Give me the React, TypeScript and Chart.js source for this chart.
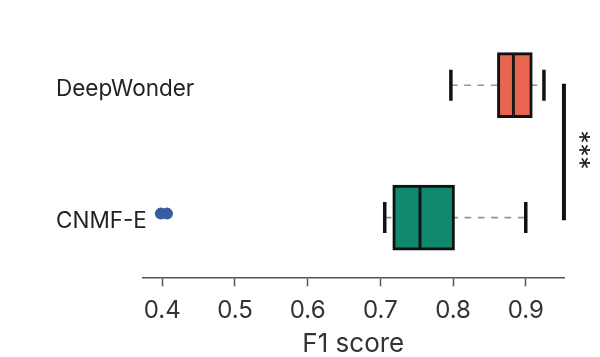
import React, { useEffect, useRef } from 'react';
import { Chart, registerables } from 'chart.js';

Chart.register(...registerables);

// ---- data ----
const categories = ['CNMF-E', 'DeepWonder'];
const categoryPositions = [0, 1];
const minValues = [0.706, 0.797];
const q1Values = [0.717, 0.861];
const medianValues = [0.7545, 0.883];
const q3Values = [0.802, 0.909];
const maxValues = [0.9, 0.925];
const boxColors = ['#108A6E', '#E8654F'];
const outlierValues = [0.398, 0.4065];
const outlierPosition = 0.03;
const xTickValues = [0.4, 0.5, 0.6, 0.7, 0.8, 0.9];
const xTitle = 'F1 score';
const significanceLabel = '***';
const bracketX = 0.9525;
const bracketFrom = 1.01;
const bracketTo = -0.02;
const significanceTextX = 0.973;
const significanceTextY = 0.51;

const FONT = 'Inter, "Noto Sans", sans-serif';

const sigPlugin = {
  id: 'sigText',
  afterDatasetsDraw(chart: any) {
    const { ctx, scales } = chart;
    const px = scales.x.getPixelForValue(significanceTextX);
    const py = scales.y.getPixelForValue(significanceTextY);
    ctx.save();
    ctx.translate(px, py);
    ctx.rotate(Math.PI / 2);
    ctx.font = `26px ${FONT}`;
    ctx.fillStyle = '#222';
    ctx.textAlign = 'center';
    ctx.textBaseline = 'middle';
    ctx.fillText(significanceLabel, 0, 0);
    ctx.restore();
  },
};

export default function App() {
  const ref = useRef<HTMLCanvasElement | null>(null);

  useEffect(() => {
    if (!ref.current) return;

    const whiskerSets = categories.map((_, i) => ({
      type: 'line',
      data: [
        { x: minValues[i], y: categoryPositions[i] },
        { x: maxValues[i], y: categoryPositions[i] },
      ],
      borderColor: '#959595',
      borderWidth: 1.6,
      borderDash: [6.7, 6.6],
      pointRadius: 0,
      order: 3,
    }));

    const chart = new Chart(ref.current, {
      type: 'bar',
      data: {
        datasets: [
          {
            type: 'scatter',
            data: categories.flatMap((_, i) => [
              { x: minValues[i], y: categoryPositions[i] },
              { x: maxValues[i], y: categoryPositions[i] },
            ]),
            pointStyle: 'line',
            rotation: 90,
            radius: 15.5,
            borderWidth: 3.5,
            borderColor: '#111',
            order: 0,
          },
          {
            type: 'scatter',
            data: outlierValues.map((v) => ({ x: v, y: outlierPosition })),
            pointStyle: 'circle',
            radius: 6,
            backgroundColor: '#3A5BA2',
            borderWidth: 0,
            order: 0,
          },
          {
            type: 'line',
            data: [
              { x: bracketX, y: bracketFrom },
              { x: bracketX, y: bracketTo },
            ],
            borderColor: '#111',
            borderWidth: 4,
            pointRadius: 0,
            clip: false,
            order: 0,
          },
          {
            type: 'bar',
            data: categories.map((_, i) => ({ x: [q1Values[i], medianValues[i]], y: categoryPositions[i] })),
            backgroundColor: boxColors,
            borderColor: '#111',
            borderWidth: { top: 3, bottom: 3, left: 3, right: 1.8 },
            borderSkipped: false,
            barThickness: 65,
            grouped: false,
            order: 1,
          },
          {
            type: 'bar',
            data: categories.map((_, i) => ({ x: [medianValues[i], q3Values[i]], y: categoryPositions[i] })),
            backgroundColor: boxColors,
            borderColor: '#111',
            borderWidth: { top: 3, bottom: 3, left: 1.8, right: 3 },
            borderSkipped: false,
            barThickness: 65,
            grouped: false,
            order: 1,
          },
          ...whiskerSets,
        ] as any,
      },
      options: {
        indexAxis: 'y',
        animation: false,
        responsive: true,
        maintainAspectRatio: false,
        layout: { padding: { left: 56, right: 35.7, top: 17.5, bottom: 0 } },
        plugins: { legend: { display: false }, tooltip: { enabled: false } },
        scales: {
          x: {
            type: 'linear',
            position: 'bottom',
            min: 0.3725,
            max: 0.953,
            offset: false,
            afterBuildTicks: (s: any) => {
              s.ticks = xTickValues.map((v) => ({ value: v }));
            },
            afterFit: (s: any) => {
              s.height = 79.7;
            },
            ticks: {
              callback: (v: any) => Number(v).toFixed(1),
              font: { family: FONT, size: 24 },
              color: '#333',
              padding: 10,
              maxRotation: 0,
              autoSkip: false,
            },
            grid: {
              display: true,
              offset: false,
              drawOnChartArea: false,
              drawTicks: true,
              tickLength: 9,
              tickWidth: 1.5,
              tickColor: '#555',
            },
            border: { display: true, color: '#555', width: 1.5 },
            title: {
              display: true,
              text: xTitle,
              font: { family: FONT, size: 26, lineHeight: 1 },
              color: '#333',
              padding: { top: 0, bottom: 0 },
            },
          },
          y: {
            type: 'linear',
            position: 'left',
            min: -0.451,
            max: 1.5,
            offset: false,
            afterBuildTicks: (s: any) => {
              s.ticks = categoryPositions.map((v) => ({ value: v }));
            },
            afterFit: (s: any) => {
              s.width = 86.3;
            },
            ticks: {
              // blank first line nudges the label a few pixels below the box centre, as in the reference
              callback: (_v: any, i: number) => ['', categories[i]],
              mirror: true,
              padding: -86.3,
              font: { family: FONT, size: 22.5, lineHeight: '8px' },
              color: '#222',
            },
            grid: { display: false, offset: false, drawTicks: false },
            border: { display: false },
          },
        },
      } as any,
      plugins: [sigPlugin],
    });

    return () => chart.destroy();
  }, []);

  return (
    <div style={{ position: 'fixed', left: 0, top: 0, width: 600, height: 357, background: '#fff' }}>
      <canvas ref={ref} />
    </div>
  );
}
